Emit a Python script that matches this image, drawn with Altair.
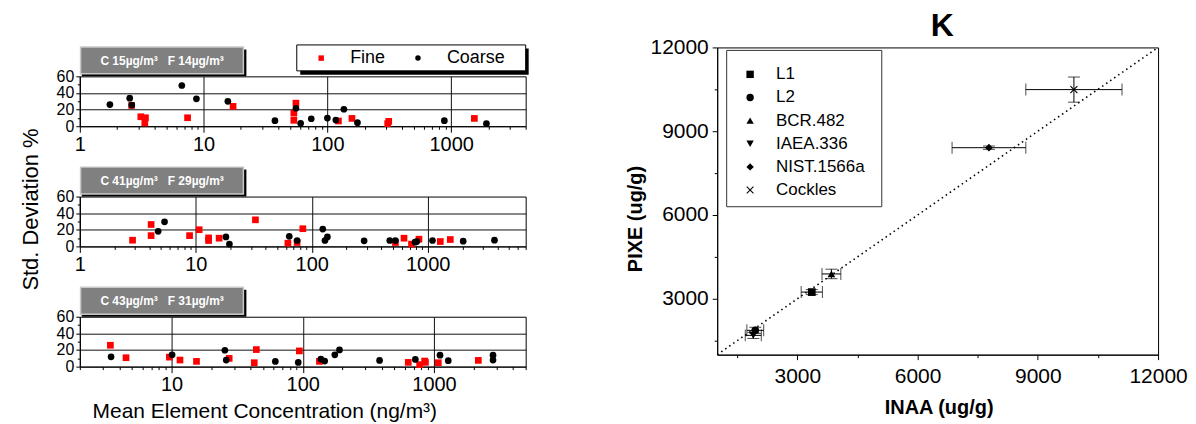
import altair as alt
import pandas as pd

FONT = "Liberation Sans"

# ---------------- left: three panels (std. deviation vs concentration) ----------------
p1_fine_x = [2.62, 3.11, 3.39, 3.35, 7.42, 17.3, 55.7, 53.6, 53.6, 122.8, 158, 307, 313, 1540]
p1_fine_y = [25, 11.4, 10.2, 3.9, 10.2, 23.9, 27.8, 15.7, 7.1, 6.3, 9.4, 3.1, 5.9, 9.4]
p1_coarse_x = [1.75, 2.53, 2.63, 6.67, 8.75, 15.7, 37.7, 55.7, 60.8, 74.1, 100, 117, 136, 175, 881, 1927]
p1_coarse_y = [26, 33.7, 25.5, 49, 33, 30, 6.7, 21.6, 3.5, 9, 9.8, 7.5, 20.4, 4.3, 6.7, 3.1]

p2_fine_x = [2.85, 4.12, 4.12, 8.84, 10.7, 12.9, 12.9, 15.9, 32.7, 62.3, 74.8, 83.8, 527, 625, 725, 841, 1285, 1567]
p2_fine_y = [7.5, 26.4, 13, 13, 20.1, 7.1, 10.3, 9.9, 32, 3.9, 4.7, 21.3, 4.7, 9.9, 2.8, 8.7, 5.9, 8.3]
p2_coarse_x = [4.74, 5.38, 18.2, 19.5, 64, 74.8, 124.5, 130, 136.5, 283, 471, 527, 778, 806, 1100, 2023, 3767]
p2_coarse_y = [18.2, 29.6, 11.4, 2.8, 12.2, 7.1, 20.9, 7.1, 11.4, 6.7, 7.1, 7.1, 5.1, 5.9, 7.1, 6.3, 7.5]

p3_fine_x = [3.42, 4.5, 9.63, 11.6, 15.5, 27.5, 42.7, 44.3, 94.2, 134, 637, 778, 849, 861, 1079, 2178]
p3_fine_y = [25.7, 10.7, 11.4, 7.9, 6.3, 9.9, 4.7, 20.5, 18.9, 6.3, 5.1, 2.4, 6.7, 5.1, 4.7, 7.5]
p3_coarse_x = [3.46, 10.1, 25.5, 26.1, 61.8, 92.4, 137.5, 147, 175.5, 190.5, 385, 721, 1112, 1285, 2818, 2818]
p3_coarse_y = [11.8, 14.2, 19.7, 7.9, 6.3, 5.1, 9.1, 6.7, 14.2, 20.1, 7.5, 8.7, 13.8, 7.1, 13.8, 7.9]

NB = "\u00a0\u00a0\u00a0"
headers = ["C 15µg/m³" + NB + "F 14µg/m³",
           "C 41µg/m³" + NB + "F 29µg/m³",
           "C 43µg/m³" + NB + "F 31µg/m³"]
x_domains = [[1, 4000], [1, 7000], [2, 5000]]
y_ticks = [0, 10, 20, 30, 40, 50, 60]
left_ytitle = "Std. Deviation %"
left_xtitle = "Mean Element Concentration (ng/m³)"

series_names = ["Fine", "Coarse"]
series_colors = ["#ff0000", "#000000"]
series_shapes = ["square", "circle"]

panels = [(p1_fine_x, p1_fine_y, p1_coarse_x, p1_coarse_y),
          (p2_fine_x, p2_fine_y, p2_coarse_x, p2_coarse_y),
          (p3_fine_x, p3_fine_y, p3_coarse_x, p3_coarse_y)]


def log_ticks(lo, hi):
    vals = []
    for e in range(0, 5):
        for m in range(1, 10):
            v = m * 10 ** e
            if lo <= v <= hi:
                vals.append(v)
    return vals


DEC = "abs(log(datum.value)/LN10 - round(log(datum.value)/LN10)) < 0.001"
one = pd.DataFrame({"k": [0]})


def make_panel(i, show_legend, ytitle, xtitle):
    fx, fy, cx, cy = panels[i]
    df = pd.DataFrame({
        "conc": list(fx) + list(cx),
        "sd": list(fy) + list(cy),
        "series": ["Fine"] * len(fx) + ["Coarse"] * len(cx),
    })
    xk = dict(values=log_ticks(*x_domains[i]),
              labelExpr=DEC + " ? format(datum.value, 'd') : ''",
              tickSize={"condition": {"test": DEC, "value": 6}, "value": 3},
              grid=True, gridColor="#111111", gridWidth=1,
              gridOpacity={"condition": {"test": DEC, "value": 1}, "value": 0},
              labelFontSize=20, labelPadding=2, labelFlush=False, labelOverlap=False, title=None)
    yk = dict(values=y_ticks,
              labelExpr="datum.value % 20 == 0 ? datum.label : ''",
              tickSize={"condition": {"test": "datum.value % 20 == 0", "value": 4}, "value": 2.5},
              grid=True, gridColor="#111111", gridWidth=1,
              gridOpacity={"condition": {"test": "datum.value == 20 || datum.value == 40", "value": 1}, "value": 0},
              labelFontSize=16, labelPadding=2, labelFlush=False, labelOverlap=False, title=None)

    if show_legend:
        leg = alt.Legend(orient="none", legendX=233, legendY=-27.3, direction="horizontal",
                         title=None, labelFontSize=18, labelFont=FONT, symbolSize=30,
                         labelOffset=20, columnPadding=23, padding=0)
    else:
        leg = None

    points = alt.Chart(df).mark_point(filled=True, size=45, opacity=1).encode(
        x=alt.X("conc:Q", scale=alt.Scale(type="log", domain=x_domains[i], nice=False), axis=alt.Axis(**xk)),
        y=alt.Y("sd:Q", scale=alt.Scale(domain=[0, 60], nice=False, zero=False), axis=alt.Axis(**yk)),
        color=alt.Color("series:N", scale=alt.Scale(domain=series_names, range=series_colors), legend=leg),
        shape=alt.Shape("series:N", scale=alt.Scale(domain=series_names, range=series_shapes), legend=leg),
    )

    hdr = pd.DataFrame({"t": [headers[i]]})
    h_shadow = alt.Chart(hdr).mark_rect(color="black").encode(
        x=alt.value(2), x2=alt.value(167), y=alt.value(-27), y2=alt.value(0))
    h_box = alt.Chart(hdr).mark_rect(fill="#808080", stroke="#c8c8c8", strokeWidth=1.5).encode(
        x=alt.value(0.75), x2=alt.value(164), y=alt.value(-29.5), y2=alt.value(-2.5))
    h_text = alt.Chart(hdr).mark_text(color="white", fontWeight="bold", fontSize=12, font=FONT,
                                      align="center", baseline="middle").encode(
        x=alt.value(82.5), y=alt.value(-15.5), text="t:N")
    layers = [h_shadow, h_box, h_text]
    if show_legend:
        # invisible frame that fixes the column's outer bounds (top/left/right)
        frame = alt.Chart(one).mark_rect(opacity=0).encode(
            x=alt.value(-70), x2=alt.value(460), y=alt.value(-67), y2=alt.value(-66))
        l_shadow = alt.Chart(one).mark_rect(color="black").encode(
            x=alt.value(221), x2=alt.value(450), y=alt.value(-28), y2=alt.value(-1.5))
        l_box = alt.Chart(one).mark_rect(fill="white", stroke="black", strokeWidth=1).encode(
            x=alt.value(217.5), x2=alt.value(447), y=alt.value(-31.5), y2=alt.value(-5.5))
        layers = [frame, l_shadow, l_box] + layers
    if ytitle:
        layers.append(alt.Chart(pd.DataFrame({"t": [ytitle]})).mark_text(
            font=FONT, fontSize=22, color="black", angle=270, align="center", baseline="alphabetic").encode(
            x=alt.value(-42.3), y=alt.value(13), text="t:N"))
    if xtitle:
        layers.append(alt.Chart(pd.DataFrame({"t": [xtitle]})).mark_text(
            font=FONT, fontSize=21, color="black", align="center", baseline="alphabetic").encode(
            x=alt.value(185.5), y=alt.value(102), text="t:N"))
    return alt.layer(*layers, points).properties(width=447, height=50)


p1 = make_panel(0, True, None, None)
p2 = make_panel(1, False, left_ytitle, None)
p3 = make_panel(2, False, None, left_xtitle)

inner = alt.vconcat(p1, p2, p3, spacing=70.5, bounds="flush").resolve_scale(
    color="independent", shape="independent").resolve_legend(color="independent", shape="independent")

spacer = alt.Chart(one).mark_point(opacity=0).encode(x=alt.value(0), y=alt.value(0)).properties(
    width=447, height=29, view=alt.ViewBackground(stroke="transparent"))

left = alt.vconcat(spacer, inner, spacing=0, bounds="flush").resolve_scale(
    color="independent", shape="independent").resolve_legend(color="independent", shape="independent")

# ---------------- right: K, PIXE vs INAA ----------------
samples = ["L1", "L2", "BCR.482", "IAEA.336", "NIST.1566a", "Cockles"]
XMARK = "M-1,-0.8L-0.8,-1L0,-0.2L0.8,-1L1,-0.8L0.2,0L1,0.8L0.8,1L0,0.2L-0.8,1L-1,0.8L-0.2,0Z"
shapes = ["square", "circle", "triangle-up", "triangle-down", "diamond", XMARK]
inaa = [3360, 1950, 3850, 1900, 7780, 9900]
inaa_err = [265, 210, 235, 200, 920, 1200]
pixe = [3240, 1870, 3890, 1690, 8410, 10490]
pixe_err = [90, 110, 170, 110, 60, 450]
ref_line = [1000, 12000]
r_ticks = [1500, 3000, 4500, 6000, 7500, 9000, 10500, 12000]

rdf = pd.DataFrame({
    "sample": samples, "inaa": inaa, "pixe": pixe,
    "inaa_lo": [a - e for a, e in zip(inaa, inaa_err)],
    "inaa_hi": [a + e for a, e in zip(inaa, inaa_err)],
    "pixe_lo": [a - e for a, e in zip(pixe, pixe_err)],
    "pixe_hi": [a + e for a, e in zip(pixe, pixe_err)],
})

MAJ = "datum.value % 3000 == 0"
xs = alt.Scale(domain=[1000, 12000], nice=False, zero=False)
ys = alt.Scale(domain=[1000, 12000], nice=False, zero=False)
xaxis = alt.Axis(values=r_ticks, labelExpr=MAJ + " ? format(datum.value, 'd') : ''",
                 tickSize={"condition": {"test": MAJ, "value": 5}, "value": 3},
                 labelFontSize=21, labelPadding=6, labelFlush=False, labelOverlap=False, grid=False,
                 title="INAA (ug/g)", titleFontSize=20, titleFontWeight="bold", titleX=222, titleY=59,
                 titleAlign="center", titleBaseline="alphabetic")
yaxis = alt.Axis(values=r_ticks, labelExpr=MAJ + " ? format(datum.value, 'd') : ''",
                 tickSize={"condition": {"test": MAJ, "value": 5}, "value": 3},
                 labelFontSize=21, labelPadding=4, labelFlush=False, labelOverlap=False, grid=False,
                 title="PIXE (ug/g)", titleFontSize=20, titleFontWeight="bold", titleAngle=270,
                 titleX=-76, titleY=171.5, titleAlign="center", titleBaseline="alphabetic")


def X(f):
    return alt.X(f, scale=xs, axis=xaxis)


def Y(f):
    return alt.Y(f, scale=ys, axis=yaxis)


rbase = alt.Chart(rdf)
r_frame = alt.Chart(one).mark_rect(opacity=0).encode(
    x=alt.value(-100), x2=alt.value(0), y=alt.value(-38), y2=alt.value(-37))
k_title = alt.Chart(pd.DataFrame({"t": ["K"]})).mark_text(
    font=FONT, fontSize=32, fontWeight="bold", color="black", align="center", baseline="alphabetic").encode(
    x=alt.value(225.7), y=alt.value(-11), text="t:N")
leg_box = alt.Chart(one).mark_rect(fill="white", stroke="#333333", strokeWidth=1).encode(
    x=alt.value(9.5), x2=alt.value(165), y=alt.value(3), y2=alt.value(159.7))
diag = alt.Chart(pd.DataFrame({"ref": ref_line})).mark_line(
    color="black", strokeWidth=1.6, strokeDash=[1.5, 3.4]).encode(x=X("ref:Q"), y=Y("ref:Q"))
xerr = rbase.mark_rule(color="black", strokeWidth=1).encode(x=X("inaa_lo:Q"), x2="inaa_hi:Q", y=Y("pixe:Q"))
yerr = rbase.mark_rule(color="black", strokeWidth=1).encode(x=X("inaa:Q"), y=Y("pixe_lo:Q"), y2="pixe_hi:Q")
cap_xl = rbase.mark_tick(orient="vertical", size=12, thickness=1, color="black").encode(x=X("inaa_lo:Q"), y=Y("pixe:Q"))
cap_xh = rbase.mark_tick(orient="vertical", size=12, thickness=1, color="black").encode(x=X("inaa_hi:Q"), y=Y("pixe:Q"))
cap_yl = rbase.mark_tick(orient="horizontal", size=12, thickness=1, color="black").encode(x=X("inaa:Q"), y=Y("pixe_lo:Q"))
cap_yh = rbase.mark_tick(orient="horizontal", size=12, thickness=1, color="black").encode(x=X("inaa:Q"), y=Y("pixe_hi:Q"))
rleg = alt.Legend(orient="none", legendX=24.5, legendY=18.5, title=None, labelFontSize=17, labelFont=FONT,
                  labelOffset=17.5, symbolSize=55, rowPadding=5.2, padding=0, direction="vertical",
                  symbolFillColor="black")
pts = rbase.mark_point(filled=True, size=60, color="black", opacity=1).encode(
    x=X("inaa:Q"), y=Y("pixe:Q"),
    shape=alt.Shape("sample:N", scale=alt.Scale(domain=samples, range=shapes), legend=rleg))

right = alt.layer(r_frame, k_title, leg_box, diag, xerr, yerr, cap_xl, cap_xh, cap_yl, cap_yh, pts).properties(
    width=442, height=308)

chart = alt.hconcat(left, right, spacing=77).resolve_scale(
    color="independent", shape="independent").resolve_legend(
    color="independent", shape="independent").properties(
    padding={"left": 1, "top": 0, "right": 0, "bottom": 0}
).configure_view(stroke="black", strokeWidth=1).configure_axis(
    domainColor="black", tickColor="black", labelColor="black", titleColor="black",
    labelFont=FONT, titleFont=FONT, domainWidth=1, tickWidth=1
).configure_legend(labelColor="black")

chart.save("out.html", embed_options={"renderer": "svg", "actions": False})
